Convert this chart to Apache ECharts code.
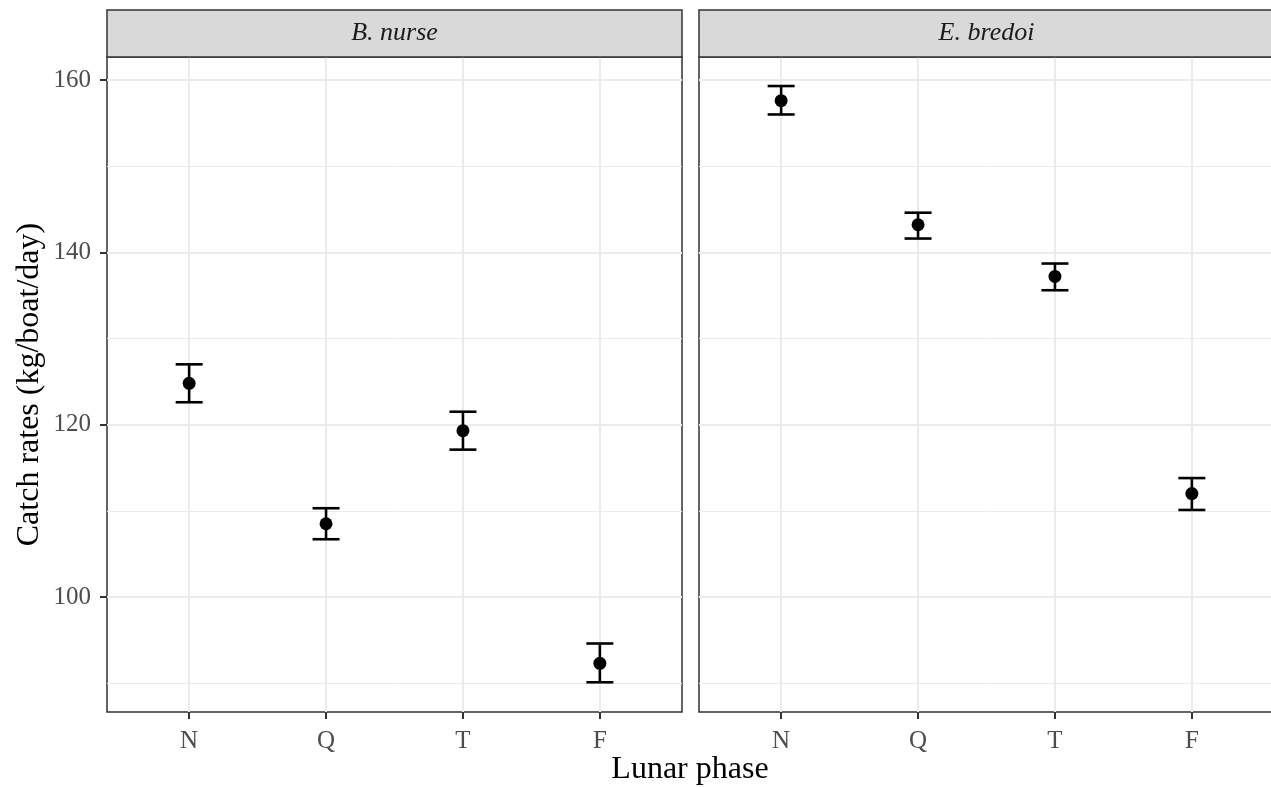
<!DOCTYPE html>
<html>
<head>
<meta charset="utf-8">
<script src="https://cdn.jsdelivr.net/npm/echarts@6/dist/echarts.min.js"></script>
<style>
  html, body { margin: 0; padding: 0; background: #fff; }
  #chart { width: 1271px; height: 787px; }
</style>
</head>
<body>
<div id="chart"></div>
<script>
// facets and lunar phases
var species = ['B. nurse', 'E. bredoi'];
var phases = ['N', 'Q', 'T', 'F'];

// mean catch rate and error bar limits, per species
var nurseMean = [124.8, 108.5, 119.3, 92.3];
var nurseLow = [122.6, 106.7, 117.1, 90.1];
var nurseHigh = [127.0, 110.3, 121.5, 94.6];

var bredoiMean = [157.6, 143.2, 137.2, 112.0];
var bredoiLow = [156.0, 141.6, 135.6, 110.1];
var bredoiHigh = [159.3, 144.6, 138.7, 113.8];

var yTicks = [100, 120, 140, 160];
var yMinorTicks = [90, 110, 130, 150];

var chart = echarts.init(document.getElementById('chart'));

var font = 'Liberation Serif';
var yMin = 86.65, yMax = 162.67;
var panelW = 575, panelTop = 57, panelH = 655;
var panelLeft = [107, 699];

function xAxisFor(i) {
  return {
    type: 'value', gridIndex: i, min: 0.4, max: 4.6,
    axisLine: { show: false },
    axisTick: { show: true, length: 7, customValues: [1, 2, 3, 4], lineStyle: { color: '#333', width: 2 } },
    axisLabel: {
      customValues: [1, 2, 3, 4], margin: 17,
      fontFamily: font, fontSize: 25, color: '#4d4d4d',
      formatter: function (v) { return phases[Math.round(v) - 1]; }
    },
    splitLine: { show: true, lineStyle: { color: '#ebebeb', width: 2 } }
  };
}

function yAxisFor(i) {
  var ax = {
    type: 'value', gridIndex: i, min: yMin, max: yMax,
    axisLine: { show: false },
    axisTick: { show: i === 0, length: 7, customValues: yTicks, lineStyle: { color: '#333', width: 2 } },
    axisLabel: {
      show: i === 0, customValues: yTicks, margin: 16,
      fontFamily: font, fontSize: 25, color: '#4d4d4d'
    },
    splitLine: { show: true, lineStyle: { color: '#ebebeb', width: 2 } }
  };
  if (i === 0) {
    ax.name = 'Catch rates (kg/boat/day)';
    ax.nameLocation = 'middle';
    ax.nameGap = 61;
    ax.nameTextStyle = { fontFamily: font, fontSize: 32, color: '#000' };
  }
  return ax;
}

function minorYAxisFor(i) {
  return {
    type: 'value', gridIndex: i, min: yMin, max: yMax, position: 'left',
    axisLine: { show: false },
    axisTick: { show: false, customValues: yMinorTicks },
    axisLabel: { show: false, customValues: yMinorTicks },
    splitLine: { show: true, lineStyle: { color: '#ebebeb', width: 1 } }
  };
}

function errorBars(xi, yi, low, high) {
  return {
    type: 'custom', xAxisIndex: xi, yAxisIndex: yi, z: 3,
    data: phases.map(function (p, k) { return [k + 1, low[k], high[k]]; }),
    renderItem: function (params, api) {
      var lo = api.coord([api.value(0), api.value(1)]);
      var hi = api.coord([api.value(0), api.value(2)]);
      var half = 13.5;
      var style = { stroke: '#000', lineWidth: 2.6 };
      return {
        type: 'group',
        children: [
          { type: 'line', shape: { x1: lo[0], y1: lo[1], x2: hi[0], y2: hi[1] }, style: style },
          { type: 'line', shape: { x1: hi[0] - half, y1: hi[1], x2: hi[0] + half, y2: hi[1] }, style: style },
          { type: 'line', shape: { x1: lo[0] - half, y1: lo[1], x2: lo[0] + half, y2: lo[1] }, style: style }
        ]
      };
    }
  };
}

function points(xi, yi, mean) {
  return {
    type: 'scatter', xAxisIndex: xi, yAxisIndex: yi, z: 4,
    symbolSize: 13, itemStyle: { color: '#000', opacity: 1 },
    data: phases.map(function (p, k) { return [k + 1, mean[k]]; })
  };
}

var graphics = [];
species.forEach(function (name, i) {
  graphics.push({
    type: 'rect', z: 10,
    shape: { x: panelLeft[i], y: 10, width: panelW, height: panelTop - 10 },
    style: { fill: '#d9d9d9', stroke: '#333', lineWidth: 1.5 }
  });
  graphics.push({
    type: 'text', z: 11,
    x: panelLeft[i] + panelW / 2, y: 10 + (panelTop - 10) / 2,
    style: {
      text: name, fontFamily: font, fontStyle: 'italic', fontSize: 26,
      fill: '#1a1a1a', align: 'center', verticalAlign: 'middle'
    }
  });
});
graphics.push({
  type: 'text', x: 690, y: 770,
  style: {
    text: 'Lunar phase', fontFamily: font, fontSize: 32, fill: '#000',
    align: 'center', verticalAlign: 'middle'
  }
});

chart.setOption({
  backgroundColor: '#fff',
  animation: false,
  grid: panelLeft.map(function (l) {
    return {
      left: l, top: panelTop, width: panelW, height: panelH,
      outerBoundsMode: 'none',
      show: true, borderColor: '#333', borderWidth: 1.5, backgroundColor: 'transparent'
    };
  }),
  xAxis: [xAxisFor(0), xAxisFor(1)],
  yAxis: [yAxisFor(0), yAxisFor(1), minorYAxisFor(0), minorYAxisFor(1)],
  series: [
    errorBars(0, 0, nurseLow, nurseHigh),
    points(0, 0, nurseMean),
    errorBars(1, 1, bredoiLow, bredoiHigh),
    points(1, 1, bredoiMean)
  ],
  graphic: graphics
});
</script>
</body>
</html>
